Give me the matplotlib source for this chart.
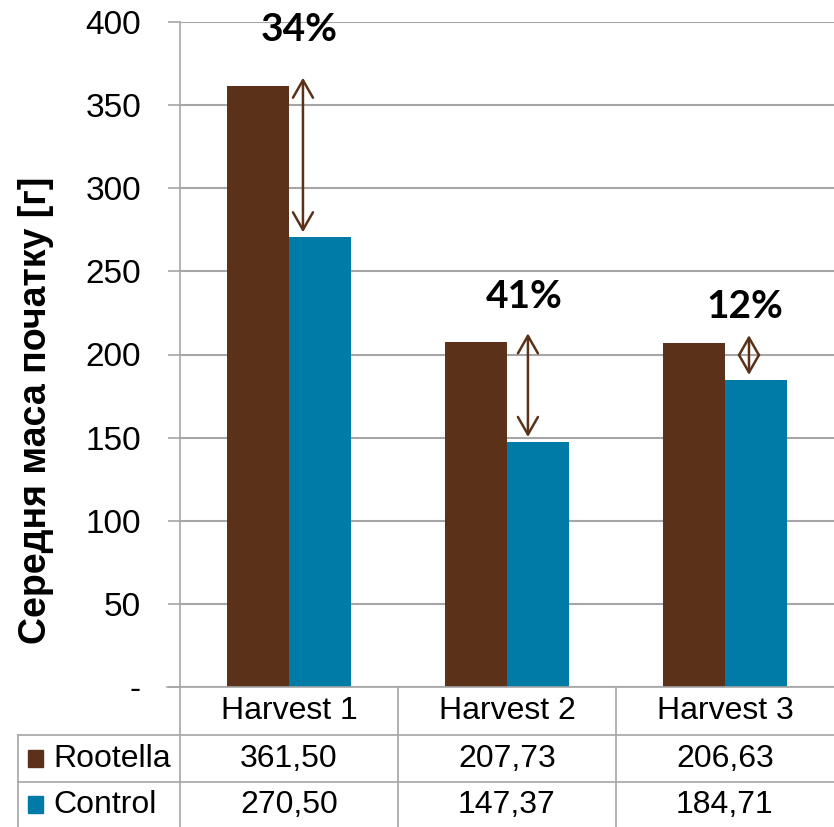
import matplotlib
matplotlib.use("Agg")
from matplotlib import pyplot as plt
from matplotlib.lines import Line2D
from matplotlib.patches import Rectangle
from matplotlib.transforms import blended_transform_factory
import numpy as np

plt.rcParams['font.family'] = ['Liberation Sans', 'DejaVu Sans']

harvests = ['Harvest 1', 'Harvest 2', 'Harvest 3']
rootella = [361.50, 207.73, 206.63]
control = [270.50, 147.37, 184.71]
rootellaText = ['361,50', '207,73', '206,63']
controlText = ['270,50', '147,37', '184,71']
gains = ['34%', '41%', '12%']
yTicks = [0, 50, 100, 150, 200, 250, 300, 350, 400]
yTickLabels = ['-', '50', '100', '150', '200', '250', '300', '350', '400']

brown = '#5b3219'
blue = '#007aa6'
grey = '#a6a6a6'

W, H = 834, 827
fig = plt.figure(figsize=(W / 100, H / 100), dpi=100)
ax = fig.add_axes([180 / W, 1 - 687 / H, 654 / W, 665 / H])

x = np.arange(len(harvests))
barWidth = 0.285
ax.bar(x - barWidth / 2, rootella, barWidth, color=brown, zorder=2)
ax.bar(x + barWidth / 2, control, barWidth, color=blue, zorder=2)

ax.set_xlim(-0.5, 2.5)
ax.set_ylim(0, 400)
ax.set_yticks(yTicks)
ax.set_yticklabels(yTickLabels, fontsize=24)
ax.set_xticks([])
ax.grid(axis='y', color=grey, linewidth=1.5, zorder=0)
ax.tick_params(axis='y', direction='out', length=9, width=1.2, color=grey, pad=19)
for side in ['top', 'right', 'bottom']:
    ax.spines[side].set_visible(False)
ax.spines['left'].set_color(grey)
ax.spines['left'].set_linewidth(1.2)
fig.text(36 / W, 1 - 410 / H, 'Середня маса початку [г]', rotation=90,
         ha='center', va='center', fontsize=27, fontweight='bold')

# double arrows with percent gain
arrowOffset = [0.064, 0.096, 0.11]
labelOffset = [34, 27, 22]
for i in range(len(harvests)):
    xa = x[i] + arrowOffset[i]
    ax.annotate('', xy=(xa, control[i] + 3), xytext=(xa, rootella[i] + 5),
                arrowprops=dict(arrowstyle='<->,head_length=0.35,head_width=0.2',
                                color=brown, lw=1.8, mutation_scale=36,
                                shrinkA=0, shrinkB=0),
                zorder=3)
    ax.text(xa - 0.018, rootella[i] + labelOffset[i], gains[i],
            ha='center', va='center', fontsize=28, fontweight='bold',
            family=['Lato', 'DejaVu Sans'])

# data table below the axes
tr = blended_transform_factory(ax.transData, fig.transFigure)
def fy(py):
    return 1 - py / H

def hline(x0, x1, py):
    fig.add_artist(Line2D([x0, x1], [fy(py), fy(py)], transform=tr, color=grey, lw=1.2))

def vline(xx, py0, py1):
    fig.add_artist(Line2D([xx, xx], [fy(py0), fy(py1)], transform=tr, color=grey, lw=1.2))

leftEdge = (18 - 180) / 218 - 0.5
hline(-0.5 - 13 / 218, 2.5, 687)
hline(leftEdge, 2.5, 735)
hline(leftEdge, 2.5, 782)
vline(leftEdge, 735, 827)
for xb in [-0.5, 0.5, 1.5]:
    vline(xb, 687, 827)

for i in range(len(harvests)):
    fig.text(x[i], fy(711), harvests[i], transform=tr, ha='center', va='center', fontsize=23)
    fig.text(x[i], fy(759), rootellaText[i], transform=tr, ha='center', va='center', fontsize=23)
    fig.text(x[i], fy(805), controlText[i], transform=tr, ha='center', va='center', fontsize=23)

for label, color, py in [('Rootella', brown, 759), ('Control', blue, 805)]:
    fig.add_artist(Rectangle((28 / W, fy(py + 8)), 15 / W, 17 / H,
                             transform=fig.transFigure, color=color))
    fig.text(53 / W, fy(py), label, ha='left', va='center', fontsize=23)

fig.savefig('out.png', dpi=100)
